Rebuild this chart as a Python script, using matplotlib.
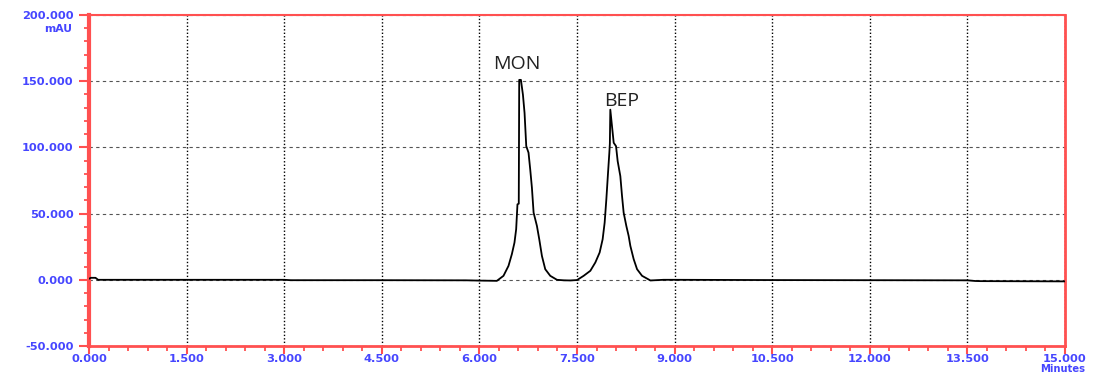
import matplotlib
matplotlib.use("Agg")
import matplotlib.pyplot as plt
from matplotlib.ticker import MultipleLocator, FixedLocator

# ---- data (time in minutes, signal in mAU) ----
time_min = [0.00, 0.03, 0.10, 0.14, 1.50, 3.00, 3.10, 4.50, 5.80, 6.00, 6.15,
            6.268, 6.370, 6.447, 6.499, 6.539, 6.565, 6.585, 6.605, 6.612, 6.638,
            6.669, 6.694, 6.720, 6.755, 6.781, 6.807, 6.833, 6.884, 6.920, 6.961,
            7.012, 7.089, 7.192, 7.300, 7.397, 7.500, 7.602, 7.705, 7.782, 7.848,
            7.894, 7.925, 7.951, 7.977, 7.997, 8.005, 8.012, 8.064, 8.100, 8.125,
            8.166, 8.192, 8.217, 8.258, 8.294, 8.320, 8.371, 8.423, 8.500, 8.628,
            8.830, 9.000, 10.50, 12.00, 13.50, 13.62, 13.70, 15.00]
signal_mau = [0.8, 1.5, 1.5, 0.0, 0.0, 0.0, -0.3, -0.3, -0.4, -0.6, -0.7,
              -0.8, 3.0, 10.5, 19.4, 28.1, 38.2, 57.0, 57.5, 151.0, 151.0,
              139.8, 126.0, 101.0, 96.0, 83.4, 69.6, 50.7, 40.7, 30.6, 18.0,
              8.0, 3.0, 0.0, -0.4, -0.5, -0.2, 3.0, 6.8, 13.1, 20.6,
              30.6, 43.2, 60.8, 80.9, 95.9, 103.0, 128.5, 103.5, 100.9, 89.6,
              78.3, 63.3, 50.7, 40.7, 33.1, 25.6, 15.6, 8.0, 3.0, -0.5,
              0.0, 0.0, -0.2, -0.3, -0.4, -0.9, -1.0, -1.2]

peak_names = ["MON", "BEP"]
peak_label_time = [6.58, 8.19]
peak_label_mau = [159.0, 131.5]

x_ticks = [0.0, 1.5, 3.0, 4.5, 6.0, 7.5, 9.0, 10.5, 12.0, 13.5, 15.0]
x_tick_labels = ["0.000", "1.500", "3.000", "4.500", "6.000", "7.500",
                 "9.000", "10.500", "12.000", "13.500", "15.000"]
y_ticks = [-50, 0, 50, 100, 150, 200]
y_tick_labels = ["-50.000", "0.000", "50.000", "100.000", "150.000", "200.000"]

RED = "#ff5050"
BLUE = "#4646ff"
LABEL_FONT = dict(family="DejaVu Sans", weight="bold", size=8.2)

fig = plt.figure(figsize=(10.98, 3.74), dpi=100)
ax = fig.add_axes([89 / 1098, 1 - 346 / 374, (1065 - 89) / 1098, (346 - 15) / 374])

ax.plot(time_min, signal_mau, color="black", lw=1.3, zorder=3)

ax.set_xlim(0, 15)
ax.set_ylim(-50, 200)

ax.xaxis.set_major_locator(FixedLocator(x_ticks))
ax.xaxis.set_minor_locator(MultipleLocator(0.3))
ax.yaxis.set_major_locator(FixedLocator(y_ticks))
ax.yaxis.set_minor_locator(MultipleLocator(10))
ax.set_xticklabels(x_tick_labels)
ax.set_yticklabels(y_tick_labels)

for lab in ax.get_xticklabels() + ax.get_yticklabels():
    lab.set_family(LABEL_FONT["family"])
    lab.set_weight(LABEL_FONT["weight"])
    lab.set_fontsize(LABEL_FONT["size"])
    lab.set_color(BLUE)

ax.tick_params(axis="y", which="major", direction="out", length=7.5,
               width=1.5, color=RED, pad=3.5)
ax.tick_params(axis="x", which="major", direction="out", length=5.5,
               width=1.5, color=RED, pad=0.5)
ax.tick_params(axis="both", which="minor", direction="out", length=3.5,
               width=1.3, color=RED)

# grid: dotted black verticals, dashed grey horizontals
ax.xaxis.grid(True, which="major", linestyle=(0, (1, 1.5)), color="black", lw=1.0)
ax.yaxis.grid(True, which="major", linestyle=(0, (3, 3)), color="#555555", lw=0.8)
ax.set_axisbelow(True)

for side, w in [("left", 3.0), ("bottom", 2.0), ("top", 1.5), ("right", 2.0)]:
    ax.spines[side].set_color(RED)
    ax.spines[side].set_linewidth(w)

for name, tx, ty in zip(peak_names, peak_label_time, peak_label_mau):
    ax.text(tx, ty, name, ha="center", va="baseline", fontsize=14,
            family="Open Sans", color="#222222")

fig.text(72 / 1098, 1 - 28.5 / 374, "mAU", ha="right", va="center",
         color=BLUE, family="DejaVu Sans", weight="bold", size=7.8)
fig.text(1063 / 1098, 0.5 / 374, "Minutes", ha="center", va="bottom",
         color=BLUE, family="DejaVu Sans", weight="bold", size=7.2)

fig.savefig("out.png", dpi=100)
